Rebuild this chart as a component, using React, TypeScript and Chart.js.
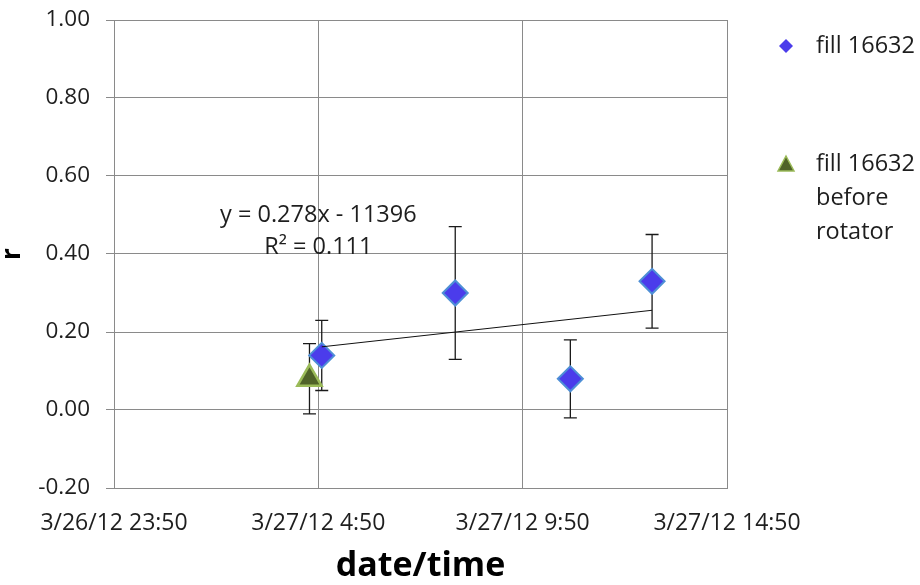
import React, { useEffect, useRef } from "react";
import { Chart, registerables } from "chart.js";

Chart.register(...registerables);

// ---- data ----
const axisTickLabels = ["3/26/12 23:50", "3/27/12 4:50", "3/27/12 9:50", "3/27/12 14:50"];
const yTicks = [-0.2, 0, 0.2, 0.4, 0.6, 0.8, 1.0];

const fillTimes = ["3/27/12 4:55", "3/27/12 8:11", "3/27/12 11:00", "3/27/12 13:00"];
const fillR = [0.14, 0.30, 0.08, 0.33];
const fillErrHigh = [0.23, 0.47, 0.18, 0.45];
const fillErrLow = [0.05, 0.13, -0.02, 0.21];

const beforeTimes = ["3/27/12 4:37"];
const beforeR = [0.08];
const beforeErrHigh = [0.17];
const beforeErrLow = [-0.01];

const seriesNames = ["fill 16632", "fill 16632 before rotator"];
const trendText = ["y = 0.278x - 11396", "R² = 0.111"];

// ---- helpers ----
function parseStamp(s: string): number {
  const [d, t] = s.split(" ");
  const [m, day, yy] = d.split("/").map(Number);
  const [h, mi] = t.split(":").map(Number);
  return Date.UTC(2000 + yy, m - 1, day, h, mi) / 3600000; // hours
}
const tickHours = axisTickLabels.map(parseStamp);
const origin = tickHours[0];
const toX = (s: string) => parseStamp(s) - origin;

const fillX = fillTimes.map(toX);
const beforeX = beforeTimes.map(toX);

// least-squares trend for the main series
function fit(xs: number[], ys: number[]) {
  const n = xs.length;
  const mx = xs.reduce((a, b) => a + b, 0) / n;
  const my = ys.reduce((a, b) => a + b, 0) / n;
  let sxy = 0, sxx = 0;
  for (let i = 0; i < n; i++) {
    sxy += (xs[i] - mx) * (ys[i] - my);
    sxx += (xs[i] - mx) ** 2;
  }
  const slope = sxy / sxx;
  return { slope, intercept: my - slope * mx };
}
const tr = fit(fillX, fillR);
const trendXs = [Math.min(...fillX), Math.max(...fillX)];

const FONT = "'Open Sans', 'Liberation Sans', sans-serif";
const TEXT = "#1e1e1e";
const GRID = "#8a8a8a";

const errorBarPlugin = {
  id: "errorBars",
  beforeDatasetsDraw(chart: any) {
    const ctx = chart.ctx;
    const xs = chart.scales.x;
    const ys = chart.scales.y;
    const groups = [
      { x: fillX, hi: fillErrHigh, lo: fillErrLow },
      { x: beforeX, hi: beforeErrHigh, lo: beforeErrLow },
    ];
    ctx.save();
    ctx.strokeStyle = "#1a1a1a";
    ctx.lineWidth = 1.3;
    const cap = 6.5;
    groups.forEach((g) => {
      g.x.forEach((xv, i) => {
        const px = xs.getPixelForValue(xv);
        const ph = ys.getPixelForValue(g.hi[i]);
        const pl = ys.getPixelForValue(g.lo[i]);
        ctx.beginPath();
        ctx.moveTo(px, ph);
        ctx.lineTo(px, pl);
        ctx.moveTo(px - cap, ph);
        ctx.lineTo(px + cap, ph);
        ctx.moveTo(px - cap, pl);
        ctx.lineTo(px + cap, pl);
        ctx.stroke();
      });
    });
    ctx.restore();
  },
  afterDraw(chart: any) {
    const ctx = chart.ctx;
    const xs = chart.scales.x;
    const ys = chart.scales.y;
    ctx.save();
    // trendline label
    ctx.fillStyle = TEXT;
    ctx.font = `23.5px ${FONT}`;
    ctx.textAlign = "center";
    ctx.textBaseline = "middle";
    const lx = xs.getPixelForValue(tickHours[1] - origin);
    ctx.fillText(trendText[0], lx, ys.getPixelForValue(0.5));
    ctx.fillText(trendText[1], lx, ys.getPixelForValue(0.418));

    // legend
    const mx = 786;
    ctx.textAlign = "left";
    ctx.font = `23.5px ${FONT}`;
    // diamond
    const dy = 46;
    ctx.beginPath();
    ctx.moveTo(mx, dy - 7);
    ctx.lineTo(mx + 7, dy);
    ctx.lineTo(mx, dy + 7);
    ctx.lineTo(mx - 7, dy);
    ctx.closePath();
    ctx.fillStyle = "#4B3CEB";
    ctx.fill();
    ctx.fillStyle = TEXT;
    ctx.fillText(seriesNames[0], 816, dy);
    // triangle
    const ty = 164;
    ctx.beginPath();
    ctx.moveTo(mx, ty - 8);
    ctx.lineTo(mx + 8, ty + 7);
    ctx.lineTo(mx - 8, ty + 7);
    ctx.closePath();
    ctx.fillStyle = "#4F6228";
    ctx.fill();
    ctx.strokeStyle = "#9BBB59";
    ctx.lineWidth = 1.5;
    ctx.stroke();
    ctx.fillStyle = TEXT;
    const words = seriesNames[1].split(" ");
    const lines = [words.slice(0, 2).join(" "), words[2], words[3]];
    lines.forEach((l, i) => ctx.fillText(l, 816, ty + i * 34));
    ctx.restore();
  },
};

export default function App() {
  const ref = useRef<HTMLCanvasElement | null>(null);
  useEffect(() => {
    document.body.style.margin = "0";
    const canvas = ref.current!;
    const chart = new Chart(canvas, {
      type: "scatter",
      data: {
        datasets: [
          {
            type: "line",
            label: "trend",
            data: trendXs.map((x) => ({ x, y: tr.slope * x + tr.intercept })),
            borderColor: "#111",
            borderWidth: 1,
            pointRadius: 0,
            showLine: true,
            fill: false,
            order: 0,
          } as any,
          {
            label: seriesNames[0],
            data: fillX.map((x, i) => ({ x, y: fillR[i] })),
            pointStyle: "rectRot",
            pointRadius: 12.5,
            backgroundColor: "#4B3CEB",
            borderColor: "#4E8FD6",
            borderWidth: 2,
            order: 1,
          },
          {
            label: seriesNames[1],
            data: beforeX.map((x, i) => ({ x, y: beforeR[i] })),
            pointStyle: "triangle",
            pointRadius: 14,
            backgroundColor: "#4F6228",
            borderColor: "#9BBB59",
            borderWidth: 2.5,
            order: 1,
          },
        ],
      },
      options: {
        responsive: false,
        animation: false,
        layout: { padding: { top: 20, right: 193, left: 0, bottom: 0 } },
        plugins: { legend: { display: false }, tooltip: { enabled: false } },
        scales: {
          x: {
            type: "linear",
            min: 0,
            max: tickHours[tickHours.length - 1] - origin,
            afterBuildTicks: (s: any) => {
              s.ticks = tickHours.map((h) => ({ value: h - origin }));
            },
            afterFit: (s: any) => {
              s.height = 97;
              s.paddingLeft = 0;
              s.paddingRight = 0;
            },
            ticks: {
              callback: (v: any) => {
                const i = tickHours.findIndex((h) => Math.abs(h - origin - v) < 1e-6);
                return i >= 0 ? axisTickLabels[i] : "";
              },
              font: { family: FONT, size: 23 },
              color: TEXT,
              padding: 22,
              maxRotation: 0,
              autoSkip: false,
            },
            grid: { color: GRID, drawTicks: false, lineWidth: 1 },
            border: { color: GRID },
            title: {
              display: true,
              text: "date/time",
              font: { family: FONT, size: 34, weight: "bold", lineHeight: 1.1 },
              color: "#000",
              padding: { top: 0, bottom: 0 },
            },
          },
          y: {
            min: -0.2,
            max: 1.0,
            afterBuildTicks: (s: any) => {
              s.ticks = yTicks.map((v) => ({ value: v }));
            },
            afterFit: (s: any) => {
              s.width = 114;
              s.paddingTop = 0;
              s.paddingBottom = 0;
            },
            ticks: {
              callback: (v: any) => Number(v).toFixed(2),
              font: { family: FONT, size: 22.5 },
              color: TEXT,
              padding: 16,
            },
            grid: { color: GRID, tickLength: 8, lineWidth: 1 },
            border: { color: GRID },
            title: {
              display: true,
              text: "r",
              font: { family: FONT, size: 26, weight: "bold", lineHeight: 1 },
              color: "#000",
              padding: { top: 0, bottom: 0 },
            },
          },
        },
      },
      plugins: [errorBarPlugin],
    } as any);
    return () => chart.destroy();
  }, []);
  return <canvas ref={ref} width={920} height={585} style={{ display: "block" }} />;
}
